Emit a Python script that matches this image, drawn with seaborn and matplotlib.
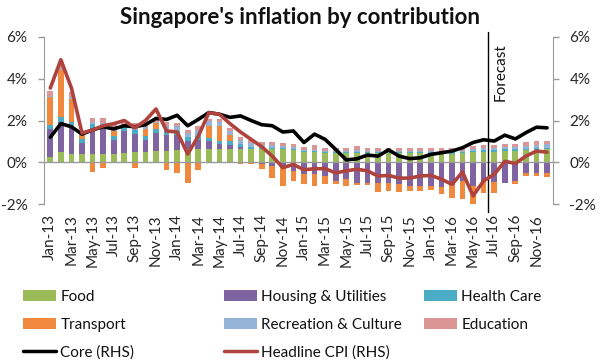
import numpy as np
import pandas as pd
import matplotlib
matplotlib.use("Agg")
import matplotlib.pyplot as plt
import seaborn as sns
from matplotlib.patches import Patch
from matplotlib.lines import Line2D

# monthly data, Jan-13 .. Dec-16 (percentage points)
months = pd.date_range("2013-01-01", periods=48, freq="MS").strftime("%b-%y").tolist()

food = [0.25, 0.48, 0.38, 0.38, 0.42, 0.42, 0.42, 0.47, 0.50, 0.50, 0.55, 0.55,
        0.60, 0.62, 0.65, 0.65, 0.65, 0.65, 0.65, 0.65, 0.62, 0.62, 0.62, 0.60,
        0.50, 0.48, 0.46, 0.45, 0.45, 0.45, 0.45, 0.45, 0.45, 0.45, 0.44, 0.44,
        0.44, 0.42, 0.42, 0.44, 0.48, 0.50, 0.50, 0.55, 0.55, 0.58, 0.60, 0.62]
housing = [1.35, 1.46, 1.33, 0.55, 1.18, 1.18, 0.63, 1.01, 0.85, 0.55, 0.85, 0.75,
           0.70, 0.40, 0.41, 0.35, 0.22, 0.20, 0.10, -0.05, -0.10, -0.17, -0.25, -0.40,
           -0.57, -0.57, -0.65, -0.89, -0.81, -1.00, -0.97, -1.00, -0.97, -1.05, -1.15, -1.13,
           -1.13, -1.18, -1.10, -0.90, -1.13, -0.90, -0.95, -0.97, -0.89, -0.50, -0.50, -0.50]
health = [0.19, 0.21, 0.21, 0.19, 0.23, 0.20, 0.19, 0.20, 0.20, 0.20, 0.20, 0.20,
          0.19, 0.18, 0.19, 0.16, 0.15, 0.15, 0.12, 0.10, 0.08, 0.07, 0.06, 0.06,
          0.05, 0.05, 0.05, 0.05, 0.05, 0.05, 0.05, 0.05, 0.05, 0.05, 0.05, 0.05,
          0.05, 0.05, 0.06, 0.06, 0.06, 0.07, 0.07, 0.08, 0.08, 0.08, 0.09, 0.09]
transport = [1.35, 2.25, 1.11, 0.19, -0.45, -0.25, 0.24, 0.00, -0.27, 0.35, 0.30, -0.35,
             -0.49, -0.97, -0.38, 0.60, 0.70, 0.30, -0.10, -0.05, -0.20, -0.56, -0.88, -0.50,
             -0.48, -0.56, -0.40, -0.16, -0.30, -0.10, -0.12, -0.41, -0.40, -0.36, -0.22, -0.24,
             -0.20, -0.34, -0.58, -0.86, -0.95, -0.54, -0.50, 0.00, -0.16, -0.15, -0.15, -0.20]
recreation = [0.05, 0.05, 0.10, 0.05, 0.10, 0.10, 0.10, 0.10, 0.10, 0.10, 0.05, 0.25,
              0.24, 0.21, 0.29, 0.21, 0.20, 0.20, 0.20, 0.18, 0.12, 0.12, 0.10, 0.07,
              0.05, 0.08, 0.05, 0.05, 0.05, 0.08, 0.05, 0.05, 0.05, 0.05, 0.05, 0.05,
              0.05, 0.05, 0.05, 0.05, 0.08, 0.10, 0.10, 0.12, 0.12, 0.14, 0.15, 0.15]
education = [0.20, 0.20, 0.25, 0.10, 0.17, 0.20, 0.25, 0.10, 0.25, 0.10, 0.10, 0.20,
             0.16, 0.16, 0.19, 0.11, 0.13, 0.12, 0.15, 0.15, 0.15, 0.15, 0.15, 0.15,
             0.12, 0.20, 0.14, 0.15, 0.15, 0.20, 0.15, 0.15, 0.15, 0.15, 0.15, 0.15,
             0.15, 0.15, 0.15, 0.15, 0.15, 0.15, 0.15, 0.15, 0.15, 0.18, 0.18, 0.18]

core = [1.20, 1.85, 1.70, 1.35, 1.55, 1.70, 1.60, 1.75, 1.70, 1.80, 2.10, 2.05,
        2.25, 1.75, 2.05, 2.38, 2.30, 2.15, 2.22, 2.00, 1.80, 1.75, 1.45, 1.50,
        0.95, 1.35, 1.10, 0.62, 0.12, 0.17, 0.35, 0.30, 0.60, 0.30, 0.18, 0.22,
        0.38, 0.46, 0.54, 0.70, 0.95, 1.08, 1.02, 1.30, 1.12, 1.42, 1.68, 1.65]
headline = [3.55, 4.90, 3.55, 1.40, 1.55, 1.75, 1.85, 2.00, 1.65, 2.00, 2.55, 1.50,
            1.45, 0.40, 1.25, 2.37, 2.30, 1.85, 1.45, 1.10, 0.75, 0.30, -0.25, -0.10,
            -0.35, -0.30, -0.30, -0.50, -0.40, -0.33, -0.40, -0.65, -0.62, -0.75, -0.75, -0.65,
            -0.62, -0.80, -1.05, -0.46, -1.60, -0.88, -0.57, 0.05, -0.05, 0.30, 0.54, 0.49]

forecast_start = 41.38  # between Jun-16 and Jul-16

parts = pd.DataFrame({
    "Food": food,
    "Housing & Utilities": housing,
    "Health Care": health,
    "Transport": transport,
    "Recreation & Culture": recreation,
    "Education": education,
}, index=months)

colors = {
    "Food": "#9BBB59",
    "Housing & Utilities": "#8064A2",
    "Health Care": "#4BACC6",
    "Transport": "#F0883E",
    "Recreation & Culture": "#95B3D7",
    "Education": "#D99694",
}
core_color = "black"
head_color = "#AE423D"
grey = "#9A9A9A"

sns.set_style("white")
plt.rcParams["font.family"] = ["Lato", "DejaVu Sans"]
plt.rcParams["text.color"] = "#111111"

fig = plt.figure(figsize=(6, 3.6), dpi=100)
ax = fig.add_axes([0.0738, 0.4325, 0.8473, 0.4655])
x = np.arange(len(months))

# stacked bars, positives and negatives stacked separately
pos_base = np.zeros(len(x))
neg_base = np.zeros(len(x))
for name in parts.columns:
    vals = parts[name].to_numpy()
    base = np.where(vals >= 0, pos_base, neg_base)
    ax.bar(x, vals, bottom=base, width=0.54, color=colors[name], linewidth=0, zorder=2)
    pos_base += np.clip(vals, 0, None)
    neg_base += np.clip(vals, None, 0)

ax.axhline(0, color=grey, lw=1, zorder=3)
ax.axvline(forecast_start, ymin=-0.045, ymax=1.03, color="black", lw=1,
           clip_on=False, zorder=4)
ax.text(forecast_start + 1.2, 5.67, "Forecast", rotation=90, ha="center", va="top",
        fontsize=11)

ax.set_xlim(-0.57, 47.53)
ax.set_ylim(-2, 6)
ax.set_yticks([-2, 0, 2, 4, 6])
ax.set_yticklabels([f"{v}%" for v in [-2, 0, 2, 4, 6]])
ax.set_xticks(x[::2])
ax.set_xticklabels(months[::2], rotation=90)
ax.tick_params(axis="x", length=0, pad=7, labelsize=11)
ax.tick_params(axis="y", length=4, width=1, color=grey, pad=8, labelsize=11, direction="out")
for side in ["top", "right", "bottom"]:
    ax.spines[side].set_visible(False)
ax.spines["left"].set_color(grey)

# lines on the right-hand scale
ax2 = ax.twinx()
sns.lineplot(x=x, y=core, ax=ax2, color=core_color, linewidth=2.6)
sns.lineplot(x=x, y=headline, ax=ax2, color=head_color, linewidth=2.6)
ax2.set_ylim(-2, 6)
ax2.set_yticks([-2, 0, 2, 4, 6])
ax2.set_yticklabels([f"{v}%" for v in [-2, 0, 2, 4, 6]])
ax2.tick_params(axis="y", length=4, width=1, color=grey, pad=8, labelsize=11, direction="out")
for side in ["top", "left", "bottom"]:
    ax2.spines[side].set_visible(False)
ax2.spines["right"].set_color(grey)
ax2.set_xlim(-0.57, 47.53)
ax.set_ylabel("")
ax2.set_ylabel("")

fig.text(0.5, 0.952, "Singapore's inflation by contribution", ha="center", va="center",
         fontsize=16, fontweight="bold")

# legend as three columns
def patch(name):
    return Patch(facecolor=colors[name], edgecolor="none", label=name)

cols = [
    [patch("Food"), patch("Transport"), Line2D([], [], color=core_color, lw=2.5, label="Core (RHS)")],
    [patch("Housing & Utilities"), patch("Recreation & Culture"),
     Line2D([], [], color=head_color, lw=2.5, label="Headline CPI (RHS)")],
    [patch("Health Care"), patch("Education")],
]
for handles, x0 in zip(cols, [23 / 600, 224 / 600, 424 / 600]):
    fig.legend(handles=handles, loc="upper left", bbox_to_anchor=(x0, 0.195),
               frameon=False, fontsize=11, borderpad=0, borderaxespad=0,
               handlelength=2.15, handletextpad=0.3, labelspacing=0.9)

fig.savefig("out.png", dpi=100)
